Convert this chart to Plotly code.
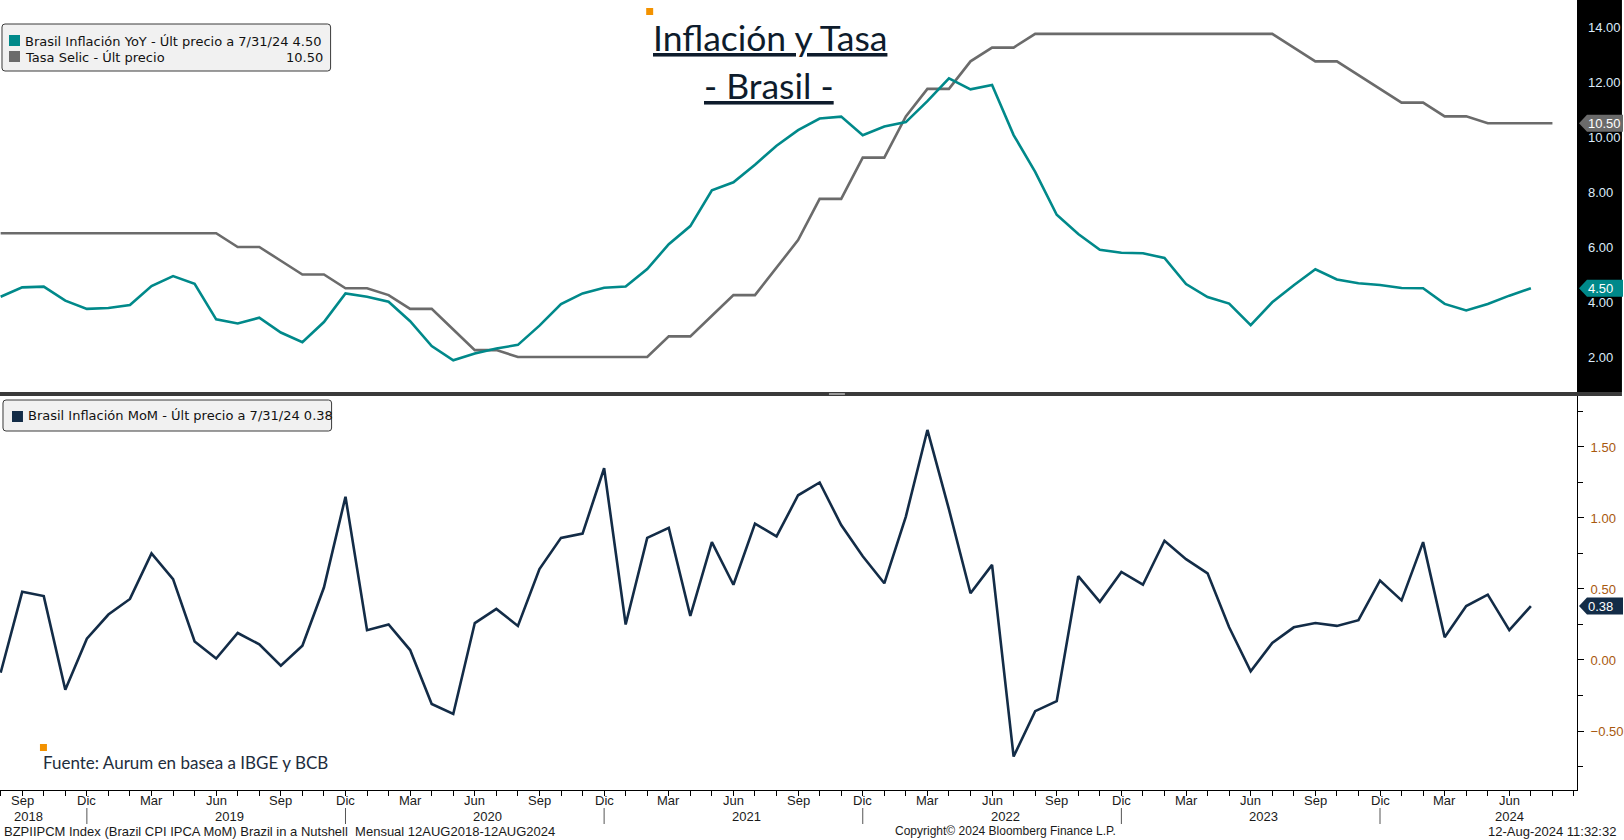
import plotly.graph_objects as go

# ---------------- data ----------------
start_year, start_month = 2018, 8  # first observation: Aug 2018

ipca_yoy = [4.19, 4.53, 4.56, 4.05, 3.75,
            3.78, 3.89, 4.58, 4.94, 4.66, 3.37, 3.22, 3.43, 2.89, 2.54, 3.27, 4.31,
            4.19, 4.01, 3.30, 2.40, 1.88, 2.13, 2.31, 2.44, 3.14, 3.92, 4.31, 4.52,
            4.56, 5.20, 6.10, 6.76, 8.06, 8.35, 8.99, 9.68, 10.25, 10.67, 10.74, 10.06,
            10.38, 10.54, 11.30, 12.13, 11.73, 11.89, 10.07, 8.73, 7.17, 6.47, 5.90, 5.79,
            5.77, 5.60, 4.65, 4.18, 3.94, 3.16, 3.99, 4.61, 5.19, 4.82, 4.68, 4.62,
            4.51, 4.50, 3.93, 3.69, 3.93, 4.23, 4.50]

selic = [6.50, 6.50, 6.50, 6.50, 6.50,
         6.50, 6.50, 6.50, 6.50, 6.50, 6.50, 6.00, 6.00, 5.50, 5.00, 5.00, 4.50,
         4.50, 4.25, 3.75, 3.75, 3.00, 2.25, 2.25, 2.00, 2.00, 2.00, 2.00, 2.00,
         2.00, 2.00, 2.75, 2.75, 3.50, 4.25, 4.25, 5.25, 6.25, 7.75, 7.75, 9.25,
         9.25, 10.75, 11.75, 11.75, 12.75, 13.25, 13.25, 13.75, 13.75, 13.75, 13.75, 13.75,
         13.75, 13.75, 13.75, 13.75, 13.75, 13.75, 13.75, 13.25, 12.75, 12.75, 12.25, 11.75,
         11.25, 11.25, 10.75, 10.75, 10.50, 10.50, 10.50, 10.50]

ipca_mom = [-0.09, 0.48, 0.45, -0.21, 0.15,
            0.32, 0.43, 0.75, 0.57, 0.13, 0.01, 0.19, 0.11, -0.04, 0.10, 0.51, 1.15,
            0.21, 0.25, 0.07, -0.31, -0.38, 0.26, 0.36, 0.24, 0.64, 0.86, 0.89, 1.35,
            0.25, 0.86, 0.93, 0.31, 0.83, 0.53, 0.96, 0.87, 1.16, 1.25, 0.95, 0.73,
            0.54, 1.01, 1.62, 1.06, 0.47, 0.67, -0.68, -0.36, -0.29, 0.59, 0.41, 0.62,
            0.53, 0.84, 0.71, 0.61, 0.23, -0.08, 0.12, 0.23, 0.26, 0.24, 0.28, 0.56,
            0.42, 0.83, 0.16, 0.38, 0.46, 0.21, 0.38]

month_names = ["Ene", "Feb", "Mar", "Abr", "May", "Jun", "Jul", "Ago", "Sep", "Oct", "Nov", "Dic"]
labeled_months = ["Mar", "Jun", "Sep", "Dic"]
years = [2018, 2019, 2020, 2021, 2022, 2023, 2024]

top_ticks = [2, 4, 6, 8, 10, 12, 14]

legend_top_1 = "Brasil Inflación YoY - Últ precio a 7/31/24 4.50"
legend_top_2 = "Tasa Selic - Últ precio"
legend_top_2_val = "10.50"
legend_bot = "Brasil Inflación MoM - Últ precio a 7/31/24 0.38"

# ---------------- geometry ----------------
W, H = 1624, 840
ML, MR, MT, MB = 0, 45, 0, 50
PW = W - ML - MR
PH = H - MT - MB


def xp(px):
    return (px - ML) / PW


def yp(py):
    return (PH - (py - MT)) / PH


TEAL = "#00898A"
GRAY = "#6B6B6B"
NAVY = "#132C47"
ORANGE = "#F39200"
DARK = "#0E1C2C"

x_yoy = list(range(len(ipca_yoy)))
x_selic = list(range(len(selic)))
x_mom = list(range(len(ipca_mom)))
XR = [-0.03, 73.14]

fig = go.Figure()
fig.add_trace(go.Scatter(x=x_selic, y=selic, mode="lines", line=dict(color=GRAY, width=2.6),
                         xaxis="x", yaxis="y", showlegend=False))
fig.add_trace(go.Scatter(x=x_yoy, y=ipca_yoy, mode="lines", line=dict(color=TEAL, width=2.6),
                         xaxis="x", yaxis="y", showlegend=False))
fig.add_trace(go.Scatter(x=x_mom, y=ipca_mom, mode="lines", line=dict(color=NAVY, width=2.6),
                         xaxis="x2", yaxis="y2", showlegend=False))

shapes = []
annotations = []

AX_FONT = dict(family="Liberation Sans, Arial", size=13, color="#1A1A1A")

# month labels (quarterly), last labelled month is the last observation
last_idx = len(ipca_mom) - 1
tickvals = []
for i in range(last_idx + 1):
    m = (start_month - 1 + i) % 12
    if month_names[m] in labeled_months:
        tickvals.append(i)
        annotations.append(dict(xref="x2", yref="paper", x=i, y=yp(800), xanchor="center", yanchor="middle",
                                text=month_names[m], showarrow=False, font=AX_FONT))

# black background behind the top right axis
shapes.append(dict(type="rect", xref="paper", yref="paper", x0=1, x1=xp(W), y0=yp(392), y1=1,
                   fillcolor="black", line=dict(width=0), layer="below"))
# panel separator
shapes.append(dict(type="rect", xref="paper", yref="paper", x0=xp(0), x1=xp(W), y0=yp(396), y1=yp(392),
                   fillcolor="#3A3A3A", line=dict(width=0), layer="above"))
shapes.append(dict(type="rect", xref="paper", yref="paper", x0=xp(830), x1=xp(846), y0=yp(395), y1=yp(393),
                   fillcolor="#9A9A9A", line=dict(width=0), layer="above"))


def rrect(x0, y0, x1, y1, r):
    X = lambda v: xp(v)
    Y = lambda v: yp(v)
    return (f"M {X(x0+r)},{Y(y0)} L {X(x1-r)},{Y(y0)} Q {X(x1)},{Y(y0)} {X(x1)},{Y(y0+r)} "
            f"L {X(x1)},{Y(y1-r)} Q {X(x1)},{Y(y1)} {X(x1-r)},{Y(y1)} "
            f"L {X(x0+r)},{Y(y1)} Q {X(x0)},{Y(y1)} {X(x0)},{Y(y1-r)} "
            f"L {X(x0)},{Y(y0+r)} Q {X(x0)},{Y(y0)} {X(x0+r)},{Y(y0)} Z")


LEG_FONT = dict(family="DejaVu Sans, Verdana", size=13.0, color="#111111")

# top legend
shapes.append(dict(type="path", xref="paper", yref="paper", path=rrect(2, 24, 331, 71, 3),
                   fillcolor="#F1F1F1", line=dict(color="#3A3A3A", width=1), layer="above"))
shapes.append(dict(type="rect", xref="paper", yref="paper", x0=xp(9), x1=xp(20), y0=yp(46), y1=yp(35),
                   fillcolor=TEAL, line=dict(width=0), layer="above"))
shapes.append(dict(type="rect", xref="paper", yref="paper", x0=xp(9), x1=xp(20), y0=yp(62), y1=yp(51),
                   fillcolor=GRAY, line=dict(width=0), layer="above"))
annotations.append(dict(xref="paper", yref="paper", x=xp(23), y=yp(41), xanchor="left", yanchor="middle",
                        text=legend_top_1, showarrow=False, font=LEG_FONT))
annotations.append(dict(xref="paper", yref="paper", x=xp(23), y=yp(57), xanchor="left", yanchor="middle",
                        text=legend_top_2, showarrow=False, font=LEG_FONT))
annotations.append(dict(xref="paper", yref="paper", x=xp(325), y=yp(57), xanchor="right", yanchor="middle",
                        text=legend_top_2_val, showarrow=False, font=LEG_FONT))

# bottom legend
shapes.append(dict(type="path", xref="paper", yref="paper", path=rrect(3, 400, 332, 431, 3),
                   fillcolor="#F1F1F1", line=dict(color="#3A3A3A", width=1), layer="above"))
shapes.append(dict(type="rect", xref="paper", yref="paper", x0=xp(12), x1=xp(23), y0=yp(422), y1=yp(411),
                   fillcolor=NAVY, line=dict(width=0), layer="above"))
annotations.append(dict(xref="paper", yref="paper", x=xp(26), y=yp(416), xanchor="left", yanchor="middle",
                        text=legend_bot, showarrow=False, font=LEG_FONT))

# title
shapes.append(dict(type="rect", xref="paper", yref="paper", x0=xp(647), x1=xp(654), y0=yp(15), y1=yp(8),
                   fillcolor=ORANGE, line=dict(width=0), layer="above"))
TITLE_FONT = dict(family="Lato, Noto Sans", size=35.5, color=DARK)
annotations.append(dict(xref="paper", yref="paper", x=xp(771), y=yp(37), xanchor="center", yanchor="middle",
                        text="<u>Inflación y Tasa</u>", showarrow=False, font=TITLE_FONT))
annotations.append(dict(xref="paper", yref="paper", x=xp(770), y=yp(85), xanchor="center", yanchor="middle",
                        text="<u>- Brasil -</u>", showarrow=False, font=TITLE_FONT))

# source
shapes.append(dict(type="rect", xref="paper", yref="paper", x0=xp(40), x1=xp(47), y0=yp(751), y1=yp(744),
                   fillcolor=ORANGE, line=dict(width=0), layer="above"))
annotations.append(dict(xref="paper", yref="paper", x=xp(41), y=yp(762), xanchor="left", yanchor="middle",
                        text="Fuente: Aurum en basea a IBGE y BCB", showarrow=False,
                        font=dict(family="Lato, Noto Sans", size=17, color="#1E2D3D")))


# price tags
def price_tag(val, yref, color, text):
    shapes.append(dict(type="path", xref="paper", yref=yref, xsizemode="pixel", ysizemode="pixel",
                       xanchor=1, yanchor=val, path="M 2,0 L 10,8.5 L 46,8.5 L 46,-8.5 L 10,-8.5 Z",
                       fillcolor=color, line=dict(width=0), layer="above"))
    annotations.append(dict(xref="paper", yref=yref, x=1, y=val, xanchor="left", yanchor="middle", xshift=9,
                            text=text, showarrow=False,
                            font=dict(family="Liberation Sans, Arial", size=13, color="white")))


price_tag(selic[-1], "y", GRAY, f"{selic[-1]:.2f}")
price_tag(ipca_yoy[-1], "y", TEAL, f"{ipca_yoy[-1]:.2f}")
price_tag(ipca_mom[-1], "y2", NAVY, f"{ipca_mom[-1]:.2f}")

# year labels and separators
for k, yr in enumerate(years):
    jan_idx = (yr - start_year) * 12 - (start_month - 1)
    if k == 0:
        pos = 1.3
    elif k == len(years) - 1:
        pos = 70.0
    else:
        pos = jan_idx + 5.6
    annotations.append(dict(xref="x2", yref="paper", x=pos, y=yp(816), xanchor="center", yanchor="middle",
                            text=str(yr), showarrow=False, font=AX_FONT))
    dec_idx = jan_idx + 11
    if dec_idx <= XR[1]:
        shapes.append(dict(type="line", xref="x2", yref="paper", x0=dec_idx, x1=dec_idx,
                           y0=yp(824), y1=yp(808), line=dict(color="#555555", width=1)))

# footer
annotations.append(dict(xref="paper", yref="paper", x=xp(2), y=yp(831), xanchor="left", yanchor="middle",
                        text="BZPIIPCM Index (Brazil CPI IPCA MoM) Brazil in a Nutshell  Mensual 12AUG2018-12AUG2024",
                        showarrow=False, font=dict(family="Liberation Sans, Arial", size=13, color="#1A1A1A")))
annotations.append(dict(xref="paper", yref="paper", x=xp(1007), y=yp(831), xanchor="center", yanchor="middle",
                        text="Copyright© 2024 Bloomberg Finance L.P.", showarrow=False,
                        font=dict(family="Liberation Sans, Arial", size=12, color="#1A1A1A")))
annotations.append(dict(xref="paper", yref="paper", x=xp(1620), y=yp(831), xanchor="right", yanchor="middle",
                        text="12-Aug-2024 11:32:32", showarrow=False,
                        font=dict(family="Liberation Sans, Arial", size=13, color="#1A1A1A")))

fig.update_layout(
    width=W, height=H,
    margin=dict(l=ML, r=MR, t=MT, b=MB, pad=0),
    paper_bgcolor="white", plot_bgcolor="white",
    showlegend=False,
    xaxis=dict(domain=[0, 1], range=XR, anchor="y", visible=False, fixedrange=True),
    yaxis=dict(domain=[yp(392), 1], range=[0.727, 14.98], anchor="x", side="right",
               tickvals=top_ticks, tickformat=".2f", ticks="", showgrid=False, zeroline=False,
               showline=False, ticklabelstandoff=10,
               tickfont=dict(family="Liberation Sans, Arial", size=13, color="#DCEBFA")),
    xaxis2=dict(domain=[0, 1], range=XR, anchor="y2", showgrid=False, zeroline=False,
                showline=True, linecolor="black", linewidth=1,
                tickvals=tickvals, showticklabels=False, ticks="outside", ticklen=5, tickcolor="black",
                minor=dict(dtick=1, tick0=0, ticks="outside", ticklen=5, tickcolor="black")),
    yaxis2=dict(domain=[0, yp(396)], range=[-0.9155, 1.859], anchor="x2", side="right",
                dtick=0.5, tick0=0, tickformat=".2f", showgrid=False, zeroline=False,
                showline=True, linecolor="black", linewidth=1,
                ticks="outside", ticklen=6, tickcolor="black", ticklabelstandoff=4,
                minor=dict(dtick=0.25, tick0=0, ticks="outside", ticklen=5, tickcolor="black"),
                tickfont=dict(family="Liberation Sans, Arial", size=13, color="#A8590E")),
    shapes=shapes,
    annotations=annotations,
)

fig.write_html("out.html", config={"displayModeBar": False},
               post_script="document.body.style.margin='0';document.body.style.overflow='hidden';")
